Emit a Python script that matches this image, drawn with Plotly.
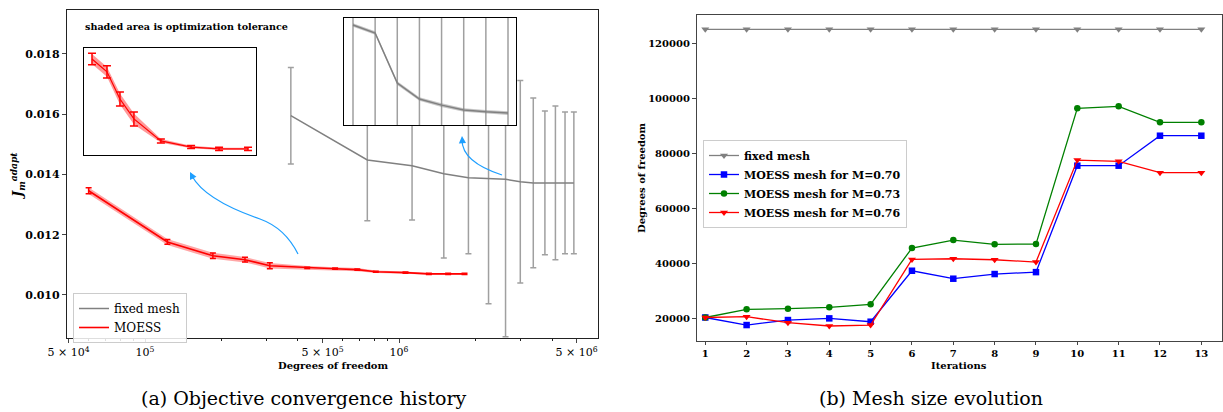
import plotly.graph_objects as go
import numpy as np

W, H = 1223, 412
def px(x): return x / W
def py(y): return 1 - y / H

SERIF = "DejaVu Serif"

# ---------------- data: (a) objective convergence ----------------
fixed_dof = [375000, 750000, 1125000, 1500000, 1875000, 2250000, 2625000,
             3000000, 3375000, 3750000, 4125000, 4500000, 4875000]
fixed_J = [0.01595, 0.01448, 0.01429, 0.01402, 0.01389, 0.01385, 0.01384,
           0.01376, 0.01372, 0.01372, 0.01372, 0.01372, 0.01372]
fixed_err = [0.00160, 0.00202, 0.00180, 0.00279, 0.00252, 0.00414, 0.00523,
             0.00336, 0.00282, 0.00239, 0.00255, 0.00235, 0.00235]

moess_dof = [60000, 122500, 185000, 247500, 310000, 435000, 560000,
             685000, 810000, 1060000, 1310000, 1560000, 1810000]
moess_J = [0.01346, 0.01176, 0.01130, 0.01117, 0.01097, 0.01090, 0.01087,
           0.01084, 0.01077, 0.01074, 0.01070, 0.01070, 0.01070]
moess_err = [0.00010, 0.00008, 0.00009, 0.00008, 0.00010, 0.00002, 0.00002,
             0.00002, 0.00002, 0.00002, 0.00002, 0.00002, 0.00002]
moess_tol = [0.00011, 0.00010, 0.00010, 0.00009, 0.00009, 0.00006, 0.00005,
             0.00005, 0.00004, 0.00004, 0.00003, 0.00003, 0.00003]

# inset data (zoomed views)
inset_moess_dof = [60000, 120000, 172000, 228000, 336000, 457000, 569000, 685000]
inset_moess_J = [0.01314, 0.01272, 0.01183, 0.01118, 0.01046, 0.01026, 0.01020, 0.01020]
inset_moess_err = [0.00019, 0.00020, 0.00023, 0.00023, 0.000065, 0.00005, 0.00005, 0.00005]
inset_moess_tol = [0.00016, 0.00016, 0.00018, 0.00018, 0.00006, 0.00004, 0.00004, 0.00004]

inset_fixed_dof = fixed_dof[:8]
inset_fixed_J = [0.01327, 0.01301, 0.01137, 0.01085, 0.01065, 0.01049, 0.01043, 0.01039]
inset_fixed_err = [0.0060, 0.0060, 0.0060, 0.0060, 0.0060, 0.0060, 0.0060, 0.0060]
inset_fixed_tol = [0.00006, 0.00006, 0.00006, 0.00006, 0.00006, 0.00006, 0.00006, 0.00006]

# ---------------- data: (b) mesh size evolution ----------------
iterations = list(range(1, 14))
dof_fixed = [125000] * 13
dof_m070 = [20200, 17450, 19270, 19880, 18660, 37200, 34300, 36000, 36700, 75400, 75400, 86300, 86300]
dof_m073 = [20200, 23160, 23400, 23880, 24970, 45450, 48360, 46800, 46900, 96250, 96980, 91160, 91160]
dof_m076 = [20200, 20480, 18300, 17100, 17450, 41330, 41560, 41200, 40360, 77450, 76980, 72850, 72850]

x_major = [5e4, 1e5, 5e5, 1e6, 5e6]
x_major_text = ["5 × 10<sup>4</sup>", "10<sup>5</sup>", "5 × 10<sup>5</sup>",
                "10<sup>6</sup>", "5 × 10<sup>6</sup>"]
x_minor = [6e4, 7e4, 8e4, 9e4, 2e5, 3e5, 4e5, 6e5, 7e5, 8e5, 9e5,
           2e6, 3e6, 4e6]
y_left_ticks = [0.010, 0.012, 0.014, 0.016, 0.018]
y_right_ticks = [20000, 40000, 60000, 80000, 100000, 120000]

fig = go.Figure()

def band(x, y, w, color, xa, ya):
    x = np.asarray(x, float); y = np.asarray(y, float); w = np.asarray(w, float)
    fig.add_trace(go.Scatter(
        x=np.concatenate([x, x[::-1]]), y=np.concatenate([y + w, (y - w)[::-1]]),
        fill="toself", fillcolor=color, line=dict(width=0), mode="lines",
        hoverinfo="skip", showlegend=False, xaxis=xa, yaxis=ya))

# main (a)
fig.add_trace(go.Scatter(
    x=fixed_dof, y=fixed_J, mode="lines", name="fixed mesh",
    line=dict(color="#808080", width=1.5),
    error_y=dict(type="data", array=fixed_err, color="#a0a0a0", thickness=1.5, width=3),
    xaxis="x", yaxis="y", legend="legend"))
band(moess_dof, moess_J, moess_tol, "rgba(255,0,0,0.35)", "x", "y")
fig.add_trace(go.Scatter(
    x=moess_dof, y=moess_J, mode="lines", name="MOESS",
    line=dict(color="#ff0000", width=1.6),
    error_y=dict(type="data", array=moess_err, color="#ff0000", thickness=1.5, width=3),
    xaxis="x", yaxis="y", legend="legend"))

# (b)
fig.add_trace(go.Scatter(
    x=iterations, y=dof_fixed, mode="lines+markers", name="fixed mesh",
    line=dict(color="#808080", width=1.3),
    marker=dict(symbol="triangle-down", size=7, color="#808080"),
    xaxis="x2", yaxis="y2", legend="legend2"))
fig.add_trace(go.Scatter(
    x=iterations, y=dof_m070, mode="lines+markers", name="MOESS mesh for M=0.70",
    line=dict(color="#0000ff", width=1.3),
    marker=dict(symbol="square", size=6.5, color="#0000ff"),
    xaxis="x2", yaxis="y2", legend="legend2"))
fig.add_trace(go.Scatter(
    x=iterations, y=dof_m073, mode="lines+markers", name="MOESS mesh for M=0.73",
    line=dict(color="#008000", width=1.3),
    marker=dict(symbol="circle", size=6.5, color="#008000"),
    xaxis="x2", yaxis="y2", legend="legend2"))
fig.add_trace(go.Scatter(
    x=iterations, y=dof_m076, mode="lines+markers", name="MOESS mesh for M=0.76",
    line=dict(color="#ff0000", width=1.3),
    marker=dict(symbol="triangle-down", size=7, color="#ff0000"),
    xaxis="x2", yaxis="y2", legend="legend2"))

# inset left (MOESS)
band(inset_moess_dof, inset_moess_J, inset_moess_tol, "rgba(255,0,0,0.4)", "x3", "y3")
fig.add_trace(go.Scatter(
    x=inset_moess_dof, y=inset_moess_J, mode="lines", showlegend=False,
    line=dict(color="#ff0000", width=1.2),
    error_y=dict(type="data", array=inset_moess_err, color="#ff0000", thickness=1.5, width=4),
    xaxis="x3", yaxis="y3"))

# inset right (fixed mesh)
fig.add_trace(go.Scatter(
    x=inset_fixed_dof, y=inset_fixed_J, mode="lines", showlegend=False,
    line=dict(color="rgba(0,0,0,0)", width=0),
    error_y=dict(type="data", array=inset_fixed_err, color="#a0a0a0", thickness=1.5, width=3),
    xaxis="x4", yaxis="y4"))
band(inset_fixed_dof, inset_fixed_J, inset_fixed_tol, "rgba(128,128,128,0.45)", "x4", "y4")
fig.add_trace(go.Scatter(
    x=inset_fixed_dof, y=inset_fixed_J, mode="lines", showlegend=False,
    line=dict(color="#808080", width=1.5),
    xaxis="x4", yaxis="y4"))

tickbold = dict(family=SERIF, size=10, color="black", weight="bold")
tickreg = dict(family=SERIF, size=11, color="black")

common = dict(showgrid=False, zeroline=False, showline=True, linewidth=1.2,
              mirror=True, automargin=False)
inset_ax = dict(common, linecolor="black", showticklabels=False, ticks="")

fig.update_layout(
    width=W, height=H,
    margin=dict(l=0, r=0, t=0, b=0, pad=0, autoexpand=False),
    paper_bgcolor="white", plot_bgcolor="white",
    xaxis=dict(common, type="log", domain=[px(67), px(598)], range=[4.693, 6.783],
               anchor="y", linecolor="#222",
               tickvals=x_major, ticktext=x_major_text, ticks="outside", ticklen=4,
               tickfont=tickreg,
               minor=dict(tickvals=x_minor, ticks="outside", ticklen=2, tickcolor="#222")),
    yaxis=dict(common, domain=[py(338), py(10)], range=[0.00857, 0.01946], anchor="x",
               linecolor="#222", tickvals=y_left_ticks, tickformat=".3f",
               ticks="outside", ticklen=4, tickfont=dict(tickbold, size=11)),
    xaxis2=dict(common, domain=[px(697), px(1222)], range=[0.8, 13.5], anchor="y2",
                linecolor="#444", tickvals=iterations, ticks="outside",
                ticklen=3, tickfont=tickbold),
    yaxis2=dict(common, domain=[py(341), py(15)], range=[11650, 130200], anchor="x2",
                linecolor="#444", tickvals=y_right_ticks, tickformat="d",
                ticks="outside", ticklen=4, tickfont=tickbold),
    xaxis3=dict(inset_ax, domain=[px(84), px(256)], range=[28000, 717000], anchor="y3"),
    yaxis3=dict(inset_ax, domain=[py(155), py(48)], range=[0.0100, 0.0135], anchor="x3"),
    xaxis4=dict(inset_ax, domain=[px(344), px(516)], range=[222600, 3135500], anchor="y4"),
    yaxis4=dict(inset_ax, domain=[py(125), py(18)], range=[0.0100, 0.0135], anchor="x4"),
    legend=dict(x=px(73), y=py(293), xanchor="left", yanchor="top",
                bgcolor="rgba(255,255,255,0.85)", bordercolor="#cccccc", borderwidth=1,
                font=dict(family=SERIF, size=12, color="black"),
                itemwidth=30, tracegroupgap=0),
    legend2=dict(x=px(703), y=py(140), xanchor="left", yanchor="top",
                 bgcolor="rgba(255,255,255,0.85)", bordercolor="#cccccc", borderwidth=1,
                 font=dict(family=SERIF, size=11, color="black", weight="bold"),
                 itemwidth=30, tracegroupgap=0),
    showlegend=True,
)

# curved arrows (annotation graphics)
blue = "#1e9fff"
def P(x, y): return f"{px(x):.5f},{py(y):.5f}"
fig.add_shape(type="path", xref="paper", yref="paper",
              path=f"M {P(298,254)} Q {P(285,228)} {P(260,219)} Q {P(205,200)} {P(192,176)}",
              line=dict(color=blue, width=1.2))
fig.add_shape(type="path", xref="paper", yref="paper",
              path=f"M {P(502,175)} Q {P(462,162)} {P(462,140)}",
              line=dict(color=blue, width=1.2))
fig.add_annotation(x=px(190), y=py(172), xref="paper", yref="paper", text="",
                   showarrow=True, ax=4, ay=8, arrowhead=2, arrowsize=1.2,
                   arrowwidth=1.2, arrowcolor=blue)
fig.add_annotation(x=px(462), y=py(136), xref="paper", yref="paper", text="",
                   showarrow=True, ax=0.5, ay=8, arrowhead=2, arrowsize=1.2,
                   arrowwidth=1.2, arrowcolor=blue)

# texts
def label(x, y, text, size=10, bold=True, angle=0, xanchor="center"):
    f = dict(family=SERIF, size=size, color="black")
    if bold:
        f["weight"] = "bold"
    fig.add_annotation(x=px(x), y=py(y), xref="paper", yref="paper", showarrow=False,
                       xanchor=xanchor, yanchor="middle", textangle=angle,
                       text=text, font=f)

label(83, 27, "shaded area is optimization tolerance", size=9.6, xanchor="left")
label(17, 176, "<b><i>J</i></b><sub><b><i>m</i></b></sub><sup><b><i>adapt</i></b></sup>",
      size=13, bold=False, angle=-90)
label(333, 365, "Degrees of freedom")
label(959, 365, "Iterations")
label(641, 178, "Degrees of freedom", angle=-90)
label(304, 398, "(a) Objective convergence history", size=19, bold=False)
label(931, 398, "(b) Mesh size evolution", size=19, bold=False)

fig.write_html("out.html")
